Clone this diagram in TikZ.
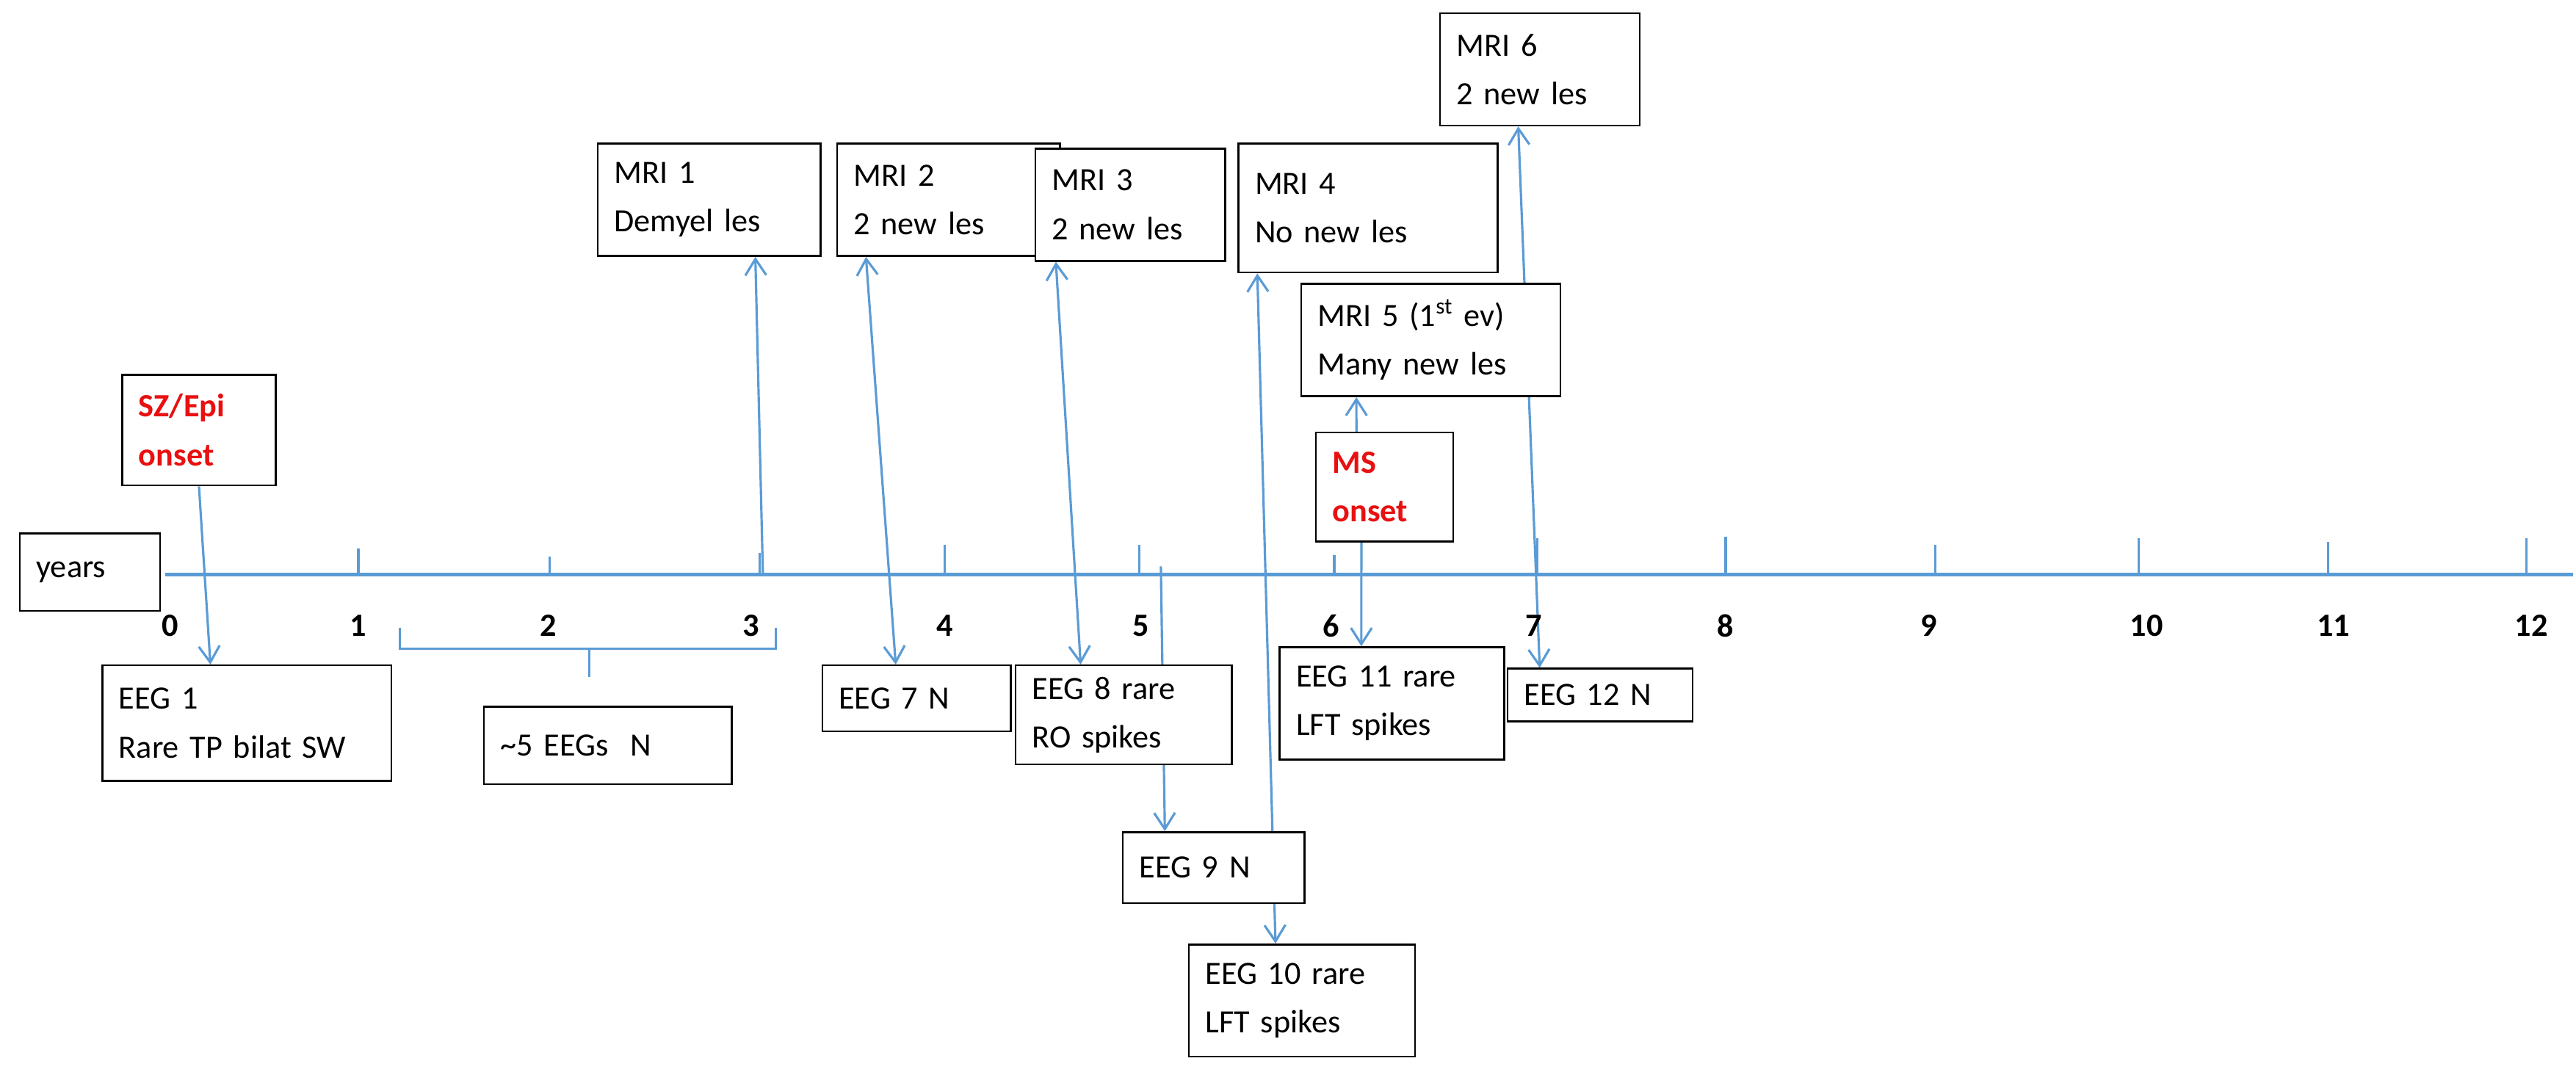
\documentclass[tikz,border=0pt]{standalone}
\usepackage{fontspec}
\setmainfont{Carlito}
\usetikzlibrary{positioning, arrows.meta, calc, backgrounds}
\definecolor{linkblue}{HTML}{5B9BD5}
\definecolor{onsetred}{HTML}{E81010}

\begin{document}
\begin{tikzpicture}[
    x=0.025cm, y=-0.025cm,
    >={Straight Barb[length=7pt,width=9pt]},
    every node/.style={font=\fontsize{14}{21}\selectfont},
    box/.style={
        draw, fill=white, line width=0.8pt, inner xsep=0.25cm,
        align=left
    },
    onset/.style={text=onsetred, font=\fontsize{14}{21}\selectfont\bfseries},
    link/.style={draw=linkblue, line width=1pt},
    yearlbl/.style={font=\fontsize{14}{16}\selectfont\bfseries},
]
\useasboundingbox (0,0) rectangle (1560,649);

% Axis and ticks
\coordinate (ax0) at (100,348);
\coordinate (ax1) at (1558,348);
\draw[linkblue, line width=1.4pt] (ax0) -- (ax1);
\foreach \tx/\th in {217/332, 333/337, 460/335, 572/330, 690/330, 808/336,
                     931/326, 1045/325, 1172/330, 1295/326, 1410/328, 1530/326}
    \draw[linkblue, line width=1pt] (\tx,348) -- (\tx,\th);

% Year labels
\foreach \yr/\yx in {0/103, 1/217, 2/332, 3/455, 4/572, 5/691, 6/806,
                     7/929, 8/1045, 9/1168, 10/1300, 11/1413, 12/1533}
    \node[yearlbl] (y\yr) at (\yx,379) {\yr};

% Boxes
\node[box, text width=1.625cm, minimum height=1.175cm] (years) at (54.5,346.5) {years};
\node[box, onset, text width=1.825cm, minimum height=1.675cm] (sz) at (120.5,260.5) {SZ/Epi\\onset};
\node[box, text width=3.875cm, minimum height=1.75cm] (eeg1) at (149.5,438) {EEG 1\\Rare TP bilat SW};
\node[box, text width=3.25cm, minimum height=1.175cm] (eegs) at (368,451.5) {\textasciitilde5 EEGs\ \ N};
\node[box, text width=2.875cm, minimum height=1.7cm] (mri1) at (429.5,121) {MRI 1\\Demyel les};
\node[box, text width=2.875cm, minimum height=1.7cm] (mri2) at (574.5,121) {MRI 2\\2 new les};
\node[box, text width=2.35cm, minimum height=1.0cm] (eeg7) at (555,423) {EEG 7 N};
\node[box, text width=2.375cm, minimum height=1.7cm] (mri3) at (684.5,124) {MRI 3\\2 new les};
\node[box, text width=2.775cm, minimum height=1.5cm] (eeg8) at (680.5,433) {EEG 8 rare\\RO spikes};
\node[box, text width=2.25cm, minimum height=1.075cm] (eeg9) at (735,525.5) {EEG 9 N};
\node[box, text width=3.425cm, minimum height=1.95cm] (mri4) at (828.5,126) {MRI 4\\No new les};
\node[box, text width=2.925cm, minimum height=1.7cm] (eeg10) at (788.5,606) {EEG 10 rare\\LFT spikes};
\node[box, text width=3.425cm, minimum height=1.7cm] (mri5) at (866.5,206) {MRI 5 (1\textsuperscript{st} ev)\\Many new les};
\node[box, onset, text width=1.575cm, minimum height=1.65cm] (ms) at (838.5,295) {MS\\onset};
\node[box, text width=2.9cm, minimum height=1.7cm] (eeg11) at (843,426) {EEG 11 rare\\LFT spikes};
\node[box, text width=2.525cm, minimum height=1.7cm] (mri6) at (932.5,42) {MRI 6\\2 new les};
\node[box, text width=2.3cm, minimum height=0.8cm] (eeg12) at (969,421) {EEG 12 N};

% Free ends on the axis
\coordinate (m1) at (462,348);
\coordinate (e9) at (703,343);

% Bracket over the ~5 EEGs
\coordinate (b1) at (242,380);
\coordinate (b2) at (242,393);
\coordinate (b3) at (470,393);
\coordinate (b4) at (470,380);
\coordinate (bs) at (357,393);
\coordinate (be) at (357,410);

\begin{pgfonlayer}{background}
% Onset and bracket
\draw[link, ->] (sz.south) -- ($(eeg1.north west)+(66,0)$);
\draw[link] (b1) -- (b2) -- (b3) -- (b4);
\draw[link] (bs) -- (be);

% MRI links
\draw[link, ->] (m1) -- ($(mri1.south west)+(96,0)$);
\draw[link, <->] ($(mri2.south west)+(18,0)$) -- ($(eeg7.north west)+(45,0)$);
\draw[link, <->] ($(mri3.south west)+(13,0)$) -- ($(eeg8.north west)+(40,0)$);
\draw[link, ->] (e9) -- ($(eeg9.north west)+(26,0)$);
\draw[link, <->] ($(mri4.south west)+(12,0)$) -- ($(eeg10.north west)+(53,0)$);
\draw[link, ->] ($(ms.north west)+(25,0)$) -- ($(mri5.south west)+(34,0)$);
\draw[link, ->] ($(ms.south west)+(28,0)$) -- ($(eeg11.north west)+(50,0)$);
\draw[link, <->] ($(mri6.south west)+(48,0)$) -- ($(eeg12.north west)+(20,0)$);
\end{pgfonlayer}

\end{tikzpicture}
\end{document}
